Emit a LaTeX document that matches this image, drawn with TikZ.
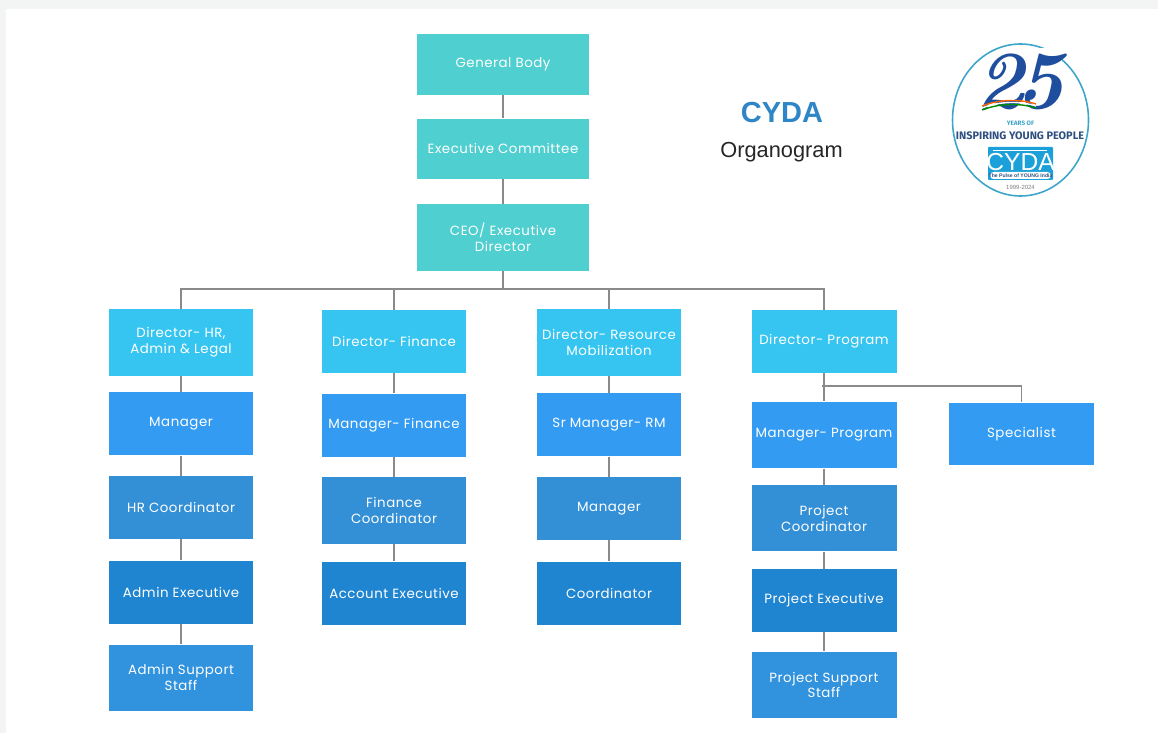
\documentclass[tikz,border=0pt]{standalone}
\usepackage{fontspec}
\usepackage{tikz}
\usetikzlibrary{positioning}
\newfontfamily\boxfont[LetterSpace=4]{Poppins}
\newfontfamily\titlefont{Liberation Sans}
\newfontfamily\logofont{Fira Sans}
\definecolor{rootblue}{HTML}{4FCFCF}
\definecolor{directorblue}{HTML}{36C5F0}
\definecolor{managerblue}{HTML}{339CF2}
\definecolor{coordblue}{HTML}{3490D6}
\definecolor{execblue}{HTML}{2085D0}
\definecolor{supportblue}{HTML}{3192DE}
\definecolor{linegray}{HTML}{8A8A8A}
\definecolor{pagegray}{HTML}{F3F5F5}
\definecolor{titleblue}{HTML}{2F86C6}
\definecolor{logoblue}{HTML}{1F4E9E}
\definecolor{logoink}{HTML}{2F4F80}
\definecolor{logoring}{HTML}{3DA5C9}
\definecolor{logobox}{HTML}{1CA0DA}

\begin{document}
\begin{tikzpicture}[x=.02cm,y=-.02cm]
	\tikzstyle{orgbox}=[inner sep=0pt, text=white, text centered, align=center, minimum width=2.9cm, minimum height=1.26cm, font=\boxfont\fontsize{7.6}{9}\selectfont]
	\tikzstyle{tall}=[minimum height=1.33cm]
	\tikzstyle{rootbox}=[orgbox, fill=rootblue, minimum width=3.44cm]
	\tikzstyle{directorbox}=[orgbox, fill=directorblue]
	\tikzstyle{managerbox}=[orgbox, fill=managerblue]
	\tikzstyle{coordbox}=[orgbox, fill=coordblue]
	\tikzstyle{execbox}=[orgbox, fill=execblue]
	\tikzstyle{supportbox}=[orgbox, fill=supportblue]
	\tikzstyle{link}=[draw=linegray, line width=.7pt]

	\fill[pagegray] (0,0) rectangle (1158,733);
	\fill[white] (6,9) rectangle (1158,733);
	\useasboundingbox (0,0) rectangle (1158,733);

	\node (gb) [rootbox, minimum height=1.22cm] at (503,64.5) {General Body};
	\node (ec) [rootbox, minimum height=1.2cm, below=.46cm of gb] {Executive Committee};
	\node (ceo) [rootbox, tall, below=.5cm of ec] {CEO/ Executive\\Director};

	\node (hrdir) [directorbox, tall] at (181,342.5) {Director- HR,\\Admin \& Legal};
	\node (hrmgr) [managerbox, below=.32cm of hrdir] {Manager};
	\node (hrco) [coordbox, below=.4cm of hrmgr] {HR Coordinator};
	\node (adminex) [execbox, below=.42cm of hrco] {Admin Executive};
	\node (adminst) [supportbox, tall, below=.4cm of adminex] {Admin Support\\Staff};

	\node (findir) [directorbox] at (394,341.5) {Director- Finance};
	\node (finmgr) [managerbox, below=.4cm of findir] {Manager- Finance};
	\node (finco) [coordbox, tall, below=.4cm of finmgr] {Finance\\Coordinator};
	\node (accex) [execbox, below=.34cm of finco] {Account Executive};

	\node (rmdir) [directorbox, tall] at (609,342.5) {Director- Resource\\Mobilization};
	\node (rmsr) [managerbox, below=.34cm of rmdir] {Sr Manager- RM};
	\node (rmmgr) [coordbox, below=.4cm of rmsr] {Manager};
	\node (rmco) [execbox, below=.42cm of rmmgr] {Coordinator};

	\node (progdir) [directorbox] at (824,341.5) {Director- Program};
	\node (progmgr) [managerbox, tall, below=.56cm of progdir] {Manager- Program};
	\node (progco) [coordbox, tall, below=.32cm of progmgr] {Project\\Coordinator};
	\node (progex) [execbox, below=.34cm of progco] {Project Executive};
	\node (progst) [supportbox, tall, below=.38cm of progex] {Project Support\\Staff};
	\node (spec) [managerbox] at (1021.5,434) {Specialist};

	\coordinate (bus) at (503,289);
	\coordinate (progbus) at (822,386);

	\draw[link] (gb) -- (ec);
	\draw[link] (ec) -- (ceo);
	\draw[link] (ceo) -- (bus);
	\draw[link] (hrdir) -- (hrdir |- bus) -- (progdir |- bus) -- (progdir);
	\draw[link] (findir) -- (findir |- bus);
	\draw[link] (rmdir) -- (rmdir |- bus);

	\draw[link] (hrdir) -- (hrmgr);
	\draw[link] (hrmgr) -- (hrco);
	\draw[link] (hrco) -- (adminex);
	\draw[link] (adminex) -- (adminst);

	\draw[link] (findir) -- (finmgr);
	\draw[link] (finmgr) -- (finco);
	\draw[link] (finco) -- (accex);

	\draw[link] (rmdir) -- (rmsr);
	\draw[link] (rmsr) -- (rmmgr);
	\draw[link] (rmmgr) -- (rmco);

	\draw[link] (progdir) -- (progmgr);
	\draw[link] (progbus) -| (spec);
	\draw[link] (progmgr) -- (progco);
	\draw[link] (progco) -- (progex);
	\draw[link] (progex) -- (progst);

	\node (cyda) [font=\titlefont\bfseries\fontsize{16.5}{18}\selectfont, text=titleblue, inner sep=0pt] at (782,113) {CYDA};
	\node (organo) [font=\titlefont\fontsize{12.4}{14}\selectfont, text=black!85, inner sep=0pt] at (781.5,152) {Organogram};

	% logo
	\draw[logoring, line width=.9pt] (1020.5,120) ellipse (68 and 76);
	\fill[white] (1040,48) rectangle (1062,62);
	\node (twentyfive) [font=\fontsize{47}{47}\selectfont\bfseries\itshape, text=logoblue, inner sep=0pt] at (1020,82) {2\kern-5pt 5};
	\draw[orange!80!red, line width=.8pt] (982,106) .. controls (1000,99) and (1020,99) .. (1036,104);
	\draw[white, line width=.8pt] (982,108) .. controls (1000,101) and (1020,101) .. (1036,106);
	\draw[green!55!black, line width=.8pt] (982,110) .. controls (1000,103) and (1020,103) .. (1036,108);
	\node (years) [font=\logofont\bfseries\fontsize{3.6}{4}\selectfont, text=logoring, inner sep=0pt] at (1020.5,123) {YEARS OF};
	\node (inspiring) [font=\logofont\bfseries\fontsize{6.2}{7}\selectfont, text=logoink, inner sep=0pt] at (1020,136) {INSPIRING YOUNG PEOPLE};
	\fill[logobox, rounded corners=.5pt] (988,147) rectangle (1053,180);
	\fill[white] (993,150) rectangle (1047,151.2);
	\node (logoname) [font=\titlefont\fontsize{14}{15}\selectfont, text=white, inner sep=0pt] at (1020.5,162) {CYDA};
	\fill[white, rounded corners=2pt] (990,172) rectangle (1051,179);
	\node (pulse) [font=\titlefont\bfseries\fontsize{2.9}{3}\selectfont, text=logoink, inner sep=0pt] at (1020.5,175.5) {The Pulse of YOUNG India};
	\node (years2) [font=\titlefont\fontsize{3.4}{4}\selectfont, text=black!50, inner sep=0pt] at (1020.5,187) {1999-2024};
\end{tikzpicture}
\end{document}
